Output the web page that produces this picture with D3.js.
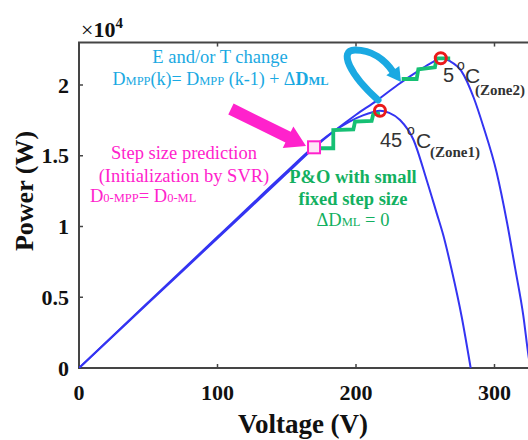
<!DOCTYPE html>
<html><head><meta charset="utf-8">
<script src="https://cdn.jsdelivr.net/npm/d3@7"></script>
<style>body{margin:0;background:#fff}svg{display:block}</style>
</head><body><svg id="c" width="528" height="440"></svg>
<script>
// ---------- data ----------
const voltage45 = [0,50,100,150,170,185,195,205,212,217.3,224,231.8,241.4,251,258.3,263,269.1,276.3,282.8];
const power45   = [0,4640,9270,13880,15680,16800,17400,17850,18080,18184,18030,17530,16150,13290,10930,9400,6926,3625,0];
const voltage5  = [0,50,100,150,170,185,200,215,230,245,255,261.2,268,276,285,292,301.6,309,315,320.8,324.5,326];
const power5    = [0,4590,9170,13760,15590,16800,17900,18900,20000,21000,21600,21887,21680,21000,19100,17050,13800,10300,7000,3700,900,0];
// P&O staircases (V, P)
const stepV1 = [174.5,183.6,183.6,198.1,199.3,211.3,212.5,217.3];
const stepP1 = [15530,15530,16820,16870,17410,17460,17950,18000];
const stepV2 = [233.0,243.8,245.0,257.0,258.2,268.0];
const stepP2 = [20424,20424,21110,21251,21887,21887];
// MPP markers
const mppV = [217.3,261.2];
const mppP = [18184,21887];
// initial (SVR) point
const initV = [169.7];
const initP = [15597];
// axis ticks
const xTicks = [0,100,200,300];
const xTickLabels = ["0","100","200","300"];
const yTicks = [0,5000,10000,15000,20000];
const yTickLabels = ["0","0.5","1","1.5","2"];
// annotation arrows (data units)
const magArrowV = [109.7,163.9];
const magArrowP = [18304,15689];
const cyanArrowV = [215.9,195.7,187.0,199.3,211.6,221.0,226.8,232.5];
const cyanArrowP = [18940,20707,22473,22473,22473,21767,20919,20212];

// ---------- scales ----------
const svg = d3.select("#c");
const x = d3.scaleLinear().domain([0,350]).range([79,79+350*1.385]);
const y = d3.scaleLinear().domain([0,23000]).range([368,368-23000*0.01415]);
const x0 = x(0), y0 = y(0), yTop = y(23000);

const serif = "'Liberation Serif','Times New Roman',serif";
const sans = "'Liberation Sans',Arial,sans-serif";
const blue = "#3434f2", green = "#16c074", cyan = "#1aa9e2", mag = "#ff22cc", red = "#ea1a1a", axisC = "#454545";

svg.append("defs").append("clipPath").attr("id","clip")
  .append("rect").attr("x",x0).attr("y",yTop).attr("width",528-x0).attr("height",y0-yTop);

// ---------- frame ----------
const fr = svg.append("g").attr("stroke",axisC).attr("stroke-width",2).attr("fill","none");
fr.append("line").attr("x1",x0).attr("x2",x0).attr("y1",yTop).attr("y2",y0+1);
fr.append("line").attr("x1",x0-1).attr("x2",528).attr("y1",y0).attr("y2",y0);
fr.append("line").attr("x1",x0-1).attr("x2",528).attr("y1",yTop).attr("y2",yTop);
xTicks.forEach(v=>{
  fr.append("line").attr("x1",x(v)).attr("x2",x(v)).attr("y1",y0).attr("y2",y0-4).attr("stroke-width",1.5);
  fr.append("line").attr("x1",x(v)).attr("x2",x(v)).attr("y1",yTop).attr("y2",yTop+4).attr("stroke-width",1.5);
});
yTicks.forEach(v=>{
  fr.append("line").attr("x1",x0).attr("x2",x0+4).attr("y1",y(v)).attr("y2",y(v)).attr("stroke-width",1.5);
});

// tick labels
const tl = svg.append("g").attr("font-family",serif).attr("font-weight","bold").attr("font-size",22).attr("fill","#111");
xTicks.forEach((v,i)=>tl.append("text").attr("x",x(v)).attr("y",y0+32).attr("text-anchor","middle").text(xTickLabels[i]));
yTicks.forEach((v,i)=>tl.append("text").attr("x",x0-10).attr("y",y(v)+7.5).attr("text-anchor","end").text(yTickLabels[i]));

// multiplier
const mult = svg.append("text").attr("x",81).attr("y",37).attr("font-family",serif).attr("font-weight","bold").attr("font-size",22).attr("fill","#111");
mult.append("tspan").attr("font-weight","normal").text("\u00D7");
mult.append("tspan").text("10");
mult.append("tspan").attr("font-size",15).attr("dy",-9).text("4");

// axis titles
svg.append("text").attr("x",303).attr("y",433).attr("text-anchor","middle")
  .attr("font-family",serif).attr("font-weight","bold").attr("font-size",27).attr("fill","#111").text("Voltage (V)");
svg.append("text").attr("transform","translate(33,191) rotate(-90)").attr("text-anchor","middle")
  .attr("font-family",serif).attr("font-weight","bold").attr("font-size",26).attr("fill","#111").text("Power (W)");

// ---------- curves ----------
const plot = svg.append("g").attr("clip-path","url(#clip)");
const line = d3.line().x(d=>x(d[0])).y(d=>y(d[1])).curve(d3.curveMonotoneX);
[[voltage45,power45],[voltage5,power5]].forEach(([vs,ps])=>{
  plot.append("path").attr("d",line(vs.map((v,i)=>[v,ps[i]])))
    .attr("fill","none").attr("stroke",blue).attr("stroke-width",2);
});

// staircases
const sline = d3.line().x(d=>x(d[0])).y(d=>y(d[1]));
[[stepV1,stepP1],[stepV2,stepP2]].forEach(([vs,ps])=>{
  plot.append("path").attr("d",sline(vs.map((v,i)=>[v,ps[i]])))
    .attr("fill","none").attr("stroke",green).attr("stroke-width",3.8).attr("stroke-linejoin","miter");
});

// MPP circles
mppV.forEach((v,i)=>plot.append("circle").attr("cx",x(v)).attr("cy",y(mppP[i])).attr("r",5.5)
  .attr("fill","none").attr("stroke",red).attr("stroke-width",3));

// init square
initV.forEach((v,i)=>plot.append("rect").attr("x",x(v)-6).attr("y",y(initP[i])-6).attr("width",12).attr("height",12)
  .attr("fill","#fde4f7").attr("stroke",mag).attr("stroke-width",2));

// ---------- arrows ----------
// magenta straight arrow
(function(){
  const ax=x(magArrowV[0]), ay=y(magArrowP[0]), bx=x(magArrowV[1]), by=y(magArrowP[1]);
  const dx=bx-ax, dy=by-ay, L=Math.hypot(dx,dy), ux=dx/L, uy=dy/L, nx=-uy, ny=ux;
  const hl=20, hw=12, sw=6;
  const hx=bx-ux*hl, hy=by-uy*hl;
  const pts=[[ax+nx*sw,ay+ny*sw],[hx+nx*sw,hy+ny*sw],[hx+nx*hw,hy+ny*hw],[bx,by],[hx-nx*hw,hy-ny*hw],[hx-nx*sw,hy-ny*sw],[ax-nx*sw,ay-ny*sw]];
  svg.append("polygon").attr("points",pts.map(p=>p.join(",")).join(" ")).attr("fill",mag);
})();
// cyan curved arrow
(function(){
  const p = cyanArrowV.map((v,i)=>[x(v),y(cyanArrowP[i])]);
  const d = `M${p[0]}C${p[1]} ${p[2]} ${p[3]}C${p[4]} ${p[5]} ${p[6]}`;
  svg.append("path").attr("d",d).attr("fill","none").attr("stroke",cyan).attr("stroke-width",7).attr("stroke-linecap","round");
  const [bx,by]=p[7], [ax,ay]=p[6];
  const dx=bx-p[5][0], dy=by-p[5][1], L=Math.hypot(dx,dy), ux=dx/L, uy=dy/L, nx=-uy, ny=ux;
  const hx=bx-ux*14, hy=by-uy*14, hw=8;
  svg.append("polygon").attr("points",[[hx+nx*hw,hy+ny*hw],[bx,by],[hx-nx*hw,hy-ny*hw]].map(q=>q.join(",")).join(" ")).attr("fill",cyan);
})();

// ---------- annotation text ----------
function rich(px, py, anchor, color, parts, base){
  const t = svg.append("text").attr("x",px).attr("y",py).attr("text-anchor",anchor)
    .attr("font-family",serif).attr("font-size",base).attr("fill",color);
  parts.forEach(p=>{
    const s=t.append("tspan").text(p.t);
    if(p.s) s.attr("font-size",p.s);
    if(p.b) s.attr("font-weight","bold");
  });
  return t;
}
const small = 12.5;
rich(x(101.8), y(21555), "middle", cyan, [{t:"E and/or T change"}], 18.5);
rich(x(102.2), y(20000), "middle", cyan, [
  {t:"D"},{t:"MPP",s:small},{t:"(k)= D"},{t:"MPP",s:small},{t:" (k-1) + \u0394"},{t:"D",b:1},{t:"ML",s:small,b:1}], 18);
rich(x(75.8), y(14770), "middle", mag, [{t:"Step size prediction"}], 18.5);
rich(x(75.8), y(13145), "middle", mag, [{t:"(Initialization by SVR)"}], 18.5);
rich(x(7.9), y(11731), "start", mag, [{t:"D"},{t:"0-MPP",s:small},{t:"= D"},{t:"0-ML",s:small}], 18.5);
rich(x(197.8), y(13074), "middle", "#12b060", [{t:"P&O with small",b:1}], 18.5);
rich(x(197.8), y(11519), "middle", "#12b060", [{t:"fixed step size",b:1}], 18.5);
rich(x(197.8), y(10035), "middle", "#12b060", [{t:"\u0394D"},{t:"ML",s:small},{t:" = 0"}], 18.5);

// temperature labels
function tempLabel(v,p,num,zone,oOff,cOff,zOff,zDy){
  const bx=x(v), by=y(p), g=svg.append("g").attr("fill","#333");
  g.append("text").attr("x",bx).attr("y",by).attr("font-family",sans).attr("font-size",20).text(num);
  g.append("text").attr("x",bx+oOff).attr("y",by-12).attr("font-family",sans).attr("font-size",14).text("o");
  g.append("text").attr("x",bx+cOff).attr("y",by+1).attr("font-family",sans).attr("font-size",21).text("C");
  g.append("text").attr("x",bx+zOff).attr("y",by+zDy).attr("font-family",serif).attr("font-weight","bold").attr("font-size",15).text(zone);
}
tempLabel(262.8,20212,"5","(Zone2)",14,22,32,13);
tempLabel(217.3,15618,"45","(Zone1)",27,36,50,10);
</script></body></html>
